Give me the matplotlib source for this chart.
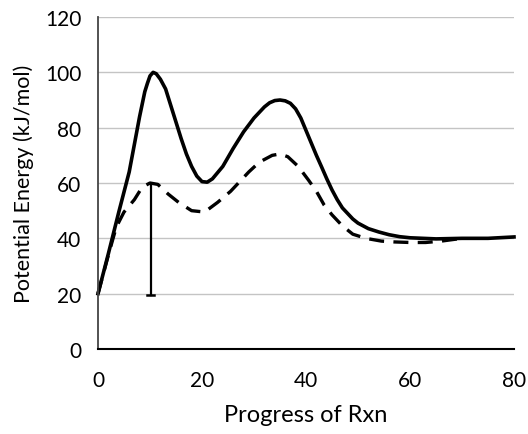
import matplotlib
matplotlib.use("Agg")
import matplotlib.pyplot as plt

plt.rcParams['font.family'] = ['Lato', 'DejaVu Sans']

# solid curve (uncatalysed)
x_solid = [0, 2, 4, 6, 7, 8, 9, 9.5, 10, 10.6, 11.2, 12, 13, 14, 15, 16, 17, 18, 19, 20,
           21, 22, 24, 26, 28, 30, 32, 33, 34, 35, 36, 37, 38, 39, 40, 41, 42, 43, 44,
           45, 46, 47, 48, 49, 50, 52, 54, 56, 58, 60, 65, 70, 75, 80]
y_solid = [20, 34.5, 49.5, 64, 74, 84, 93, 96, 98.7, 100, 99.5, 97.5, 94, 88, 82, 76, 70.5,
           66, 62.5, 60.5, 60.3, 61.5, 66, 72.5, 78.5, 83.5, 87.5, 89, 89.8, 90, 89.7, 88.8,
           86.8, 83.5, 79, 74.5, 70, 65.8, 61.5, 57.5, 54, 51, 49, 47, 45.5, 43.5, 42.3, 41.3,
           40.6, 40.2, 39.8, 40, 40, 40.5]

# dashed curve (catalysed)
x_dash = [0, 2, 3.5, 5, 7, 8.5, 10, 11.5, 13.5, 15.5, 18, 20.5, 23, 25.5, 27, 29, 31,
          33.5, 35, 36.5, 38.5, 40.5, 42, 43.5, 45, 47, 49, 51.5, 54.5, 57, 60, 63, 66, 70]
y_dash = [20, 34, 44, 49.5, 54, 58.5, 60, 59.5, 56, 53, 50, 49.5, 53, 57, 60, 64, 67.5,
          70, 70.5, 69.5, 66, 61, 57, 52, 48.5, 44.5, 41.5, 40, 39, 38.7, 38.5, 38.5, 39, 40]

# activation energy marker
bar_x = 10.2
bar_y = [19.5, 59.5]

xticks = [0, 20, 40, 60, 80]
yticks = [0, 20, 40, 60, 80, 100, 120]

fig = plt.figure(figsize=(5.28, 4.35), dpi=100)
ax = fig.add_axes([0.1856, 0.1954, 0.7879, 0.7632])

for yv in yticks[1:]:
    ax.axhline(yv, color='#c4c4c4', lw=1.0, zorder=0)

ax.plot(x_solid, y_solid, color='black', lw=2.6, solid_joinstyle='round', clip_on=False)
ax.plot(x_dash, y_dash, color='black', lw=2.4, dashes=(4.5, 2.8), clip_on=False)
ax.plot([bar_x, bar_x], bar_y, color='black', lw=1.6, clip_on=False)
ax.plot([bar_x - 0.8, bar_x + 0.6], [bar_y[0], bar_y[0]], color='black', lw=1.8, clip_on=False)

ax.set_xlim(0, 80)
ax.set_ylim(0, 120)
ax.set_xticks(xticks)
ax.set_yticks(yticks)
ax.tick_params(length=0, labelsize=15)
ax.tick_params(axis='x', pad=15)
ax.tick_params(axis='y', pad=12)

for s in ['top', 'right']:
    ax.spines[s].set_visible(False)
ax.spines['left'].set_color('#444444')
ax.spines['left'].set_linewidth(1.3)
ax.spines['bottom'].set_color('black')
ax.spines['bottom'].set_linewidth(1.5)

ax.set_xlabel('Progress of Rxn', fontsize=17, labelpad=10)
ax.set_ylabel('Potential Energy (kJ/mol)', fontsize=15.5, labelpad=8)

fig.savefig('out.png', dpi=100)
